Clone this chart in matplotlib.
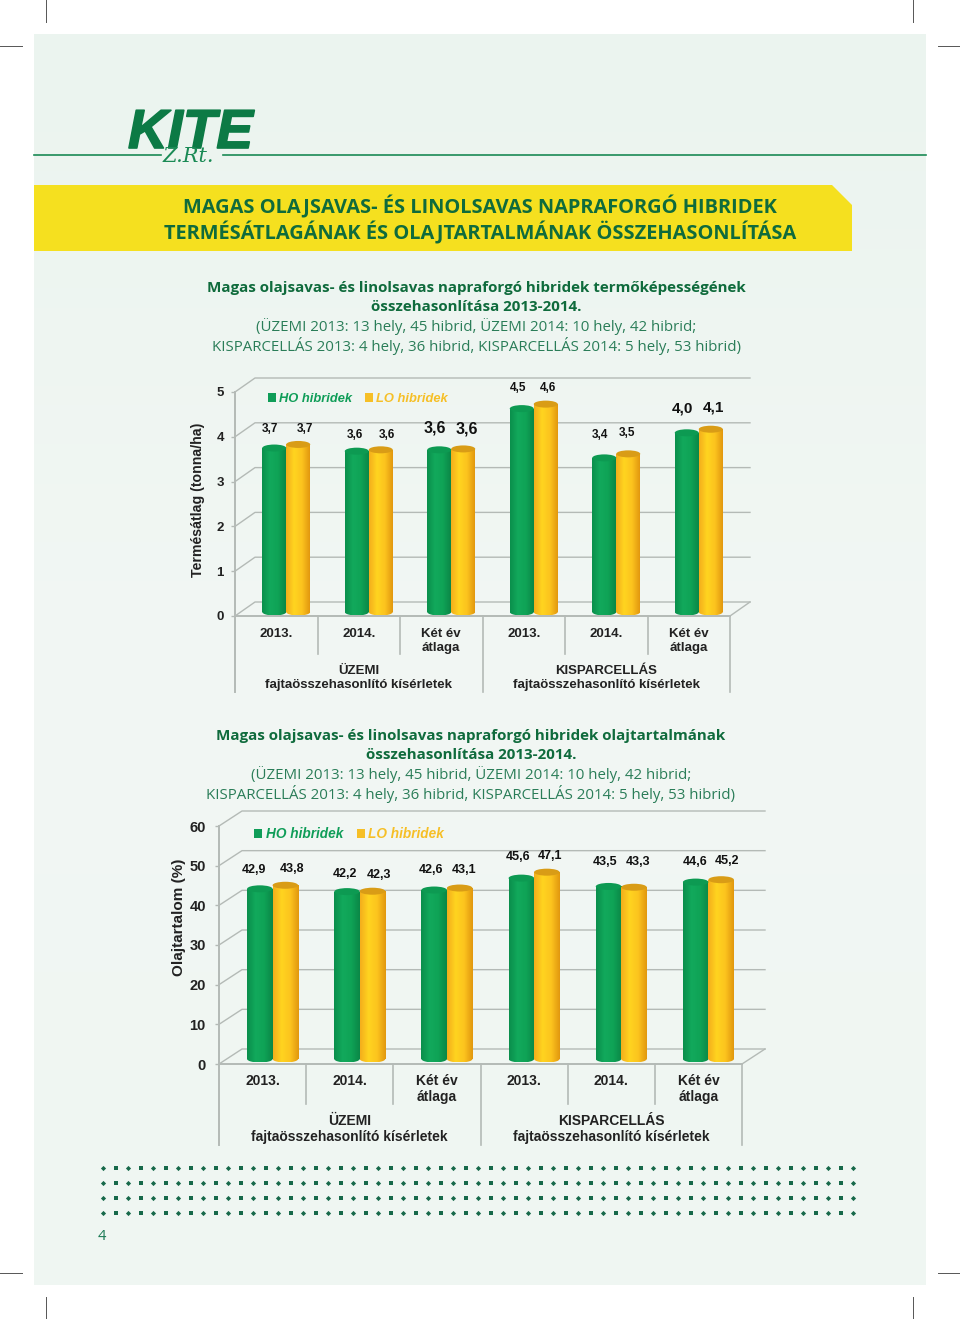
import numpy as np
import matplotlib
matplotlib.use("Agg")
import matplotlib.pyplot as plt
import matplotlib.patheffects as pe
from matplotlib.colors import LinearSegmentedColormap
from matplotlib.patches import Ellipse, Patch, Polygon, Rectangle

W, H = 960, 1319
GREEN = "#0f6b3c"
LINE = "#b4bab6"
SANS = "Liberation Sans"
HEAD = "Open Sans"

# data
categories = ["2013.", "2014.", "Két év\nátlaga", "2013.", "2014.", "Két év\nátlaga"]
groups = ["ÜZEMI\nfajtaösszehasonlító kísérletek", "KISPARCELLÁS\nfajtaösszehasonlító kísérletek"]
series_names = ["HO hibridek", "LO hibridek"]

yield_ho = [3.66, 3.59, 3.62, 4.54, 3.44, 4.00]
yield_lo = [3.74, 3.62, 3.64, 4.64, 3.53, 4.08]
yield_ticks = [0, 1, 2, 3, 4, 5]

oil_ho = [42.9, 42.2, 42.6, 45.6, 43.5, 44.6]
oil_lo = [43.8, 42.3, 43.1, 47.1, 43.3, 45.2]
oil_ticks = [0, 10, 20, 30, 40, 50, 60]

green_cmap = LinearSegmentedColormap.from_list("g", ["#0a8f4c", "#12a95c", "#0fa356", "#0b8747"])
orange_cmap = LinearSegmentedColormap.from_list("o", ["#f4ae1c", "#ffd420", "#fcc41e", "#e2980f"])

fig = plt.figure(figsize=(W / 100, H / 100), dpi=100, facecolor="white")

# page layer, in pixels
page = fig.add_axes([0, 0, 1, 1])
page.set_xlim(0, W)
page.set_ylim(H, 0)
page.axis("off")

bg = LinearSegmentedColormap.from_list("bg", ["#ebf4ef", "#f2f7f4", "#eff6f2"])
page.imshow(np.linspace(0, 1, 64).reshape(-1, 1), cmap=bg, extent=(34, 926, 1285, 34), aspect="auto")
page.set_xlim(0, W)
page.set_ylim(H, 0)

# crop marks
for x in (46, 913):
    page.plot([x, x], [0, 22], color="#555555", lw=0.7)
    page.plot([x, x], [1297, H], color="#555555", lw=0.7)
for y in (46, 1273):
    page.plot([0, 22], [y, y], color="#555555", lw=0.7)
    page.plot([938, W], [y, y], color="#555555", lw=0.7)

# logo
page.plot([34, 161], [155, 155], color="#1a8a55", lw=1.2)
page.plot([223, 926], [155, 155], color="#1a8a55", lw=1.2)
logo = page.text(128, 148, "KITE", family=SANS, weight="bold", style="italic", fontsize=39.5,
                 color="#0c7a45", ha="left", va="baseline")
logo.set_path_effects([pe.withStroke(linewidth=1.2, foreground="#0c7a45")])
page.text(163, 162, "Z.Rt.", family="DejaVu Serif", style="italic", fontsize=15,
          color="#1a8a55", ha="left", va="baseline")

# yellow band
page.add_patch(Polygon([(34, 185), (832, 185), (852, 205), (852, 251), (34, 251)],
                       closed=True, fc="#f5e01f", ec="none"))
page.text(480, 207, "MAGAS OLAJSAVAS- ÉS LINOLSAVAS NAPRAFORGÓ HIBRIDEK", family=HEAD, weight="bold",
          fontsize=14.4, color=GREEN, ha="center", va="center")
page.text(480, 233, "TERMÉSÁTLAGÁNAK ÉS OLAJTARTALMÁNAK ÖSSZEHASONLÍTÁSA", family=HEAD, weight="bold",
          fontsize=14.4, color=GREEN, ha="center", va="center")


def intro(cx, y0, bold1, bold2, thin1, thin2):
    page.text(cx, y0, bold1, family=HEAD, weight="bold", fontsize=10.9, color=GREEN, ha="center", va="center")
    page.text(cx, y0 + 19, bold2, family=HEAD, weight="bold", fontsize=10.9, color=GREEN, ha="center", va="center")
    page.text(cx, y0 + 38.5, thin1, family=HEAD, fontsize=10.8, color="#2a7d58", ha="center", va="center")
    page.text(cx, y0 + 58, thin2, family=HEAD, fontsize=10.8, color="#2a7d58", ha="center", va="center")


thin_a = "(ÜZEMI 2013: 13 hely, 45 hibrid, ÜZEMI 2014: 10 hely, 42 hibrid;"
thin_b = "KISPARCELLÁS 2013: 4 hely, 36 hibrid, KISPARCELLÁS 2014: 5 hely, 53 hibrid)"
intro(476, 288, "Magas olajsavas- és linolsavas napraforgó hibridek termőképességének",
      "összehasonlítása 2013-2014.", thin_a, thin_b)
intro(471, 736, "Magas olajsavas- és linolsavas napraforgó hibridek olajtartalmának",
      "összehasonlítása 2013-2014.", thin_a, thin_b)

# dotted rows
for y in (1168, 1183, 1198, 1213):
    xs = np.arange(103, 858, 12.5)
    page.scatter(xs[::2], np.full(xs[::2].shape, y), s=7, marker="D", color="#17694a", lw=0)
    page.scatter(xs[1::2], np.full(xs[1::2].shape, y), s=7, marker="s", color="#17694a", lw=0)
page.text(102, 1237, "4", family=HEAD, fontsize=10.5, color="#1a7a55", ha="center", va="center")


def draw_chart(left, right, y0, ytop, ymax, ticks, ho, lo, ylabel, ylabel_xy, ylabel_fs, depth, base_px,
               shift, bar_w, label_pts, label_sizes, tick_fs, group_fs, axis_fs, axis_pad, x_pad, group_y,
               divider_px, group_px, legend_xy, legend_fs):
    ax = fig.add_axes([left / W, 1 - y0 / H, (right - left) / W, (y0 - ytop) / H])
    ax.patch.set_alpha(0)
    ax.set_xlim(0, len(categories))
    ax.set_ylim(0, ymax)
    xpx = (right - left) / len(categories)
    ypx = (y0 - ytop) / ymax
    dx, dy = depth[0] / xpx, depth[1] / ypx

    # back wall, floor and grid
    for t in ticks:
        ax.plot([0, dx, len(categories) + dx], [t, t + dy, t + dy], color=LINE, lw=1.0,
                clip_on=False, zorder=1)
    ax.plot([len(categories), len(categories) + dx], [0, dy], color=LINE, lw=1.0, clip_on=False, zorder=1)

    # cylinders
    base = base_px / ypx
    eh = 7 / ypx
    w = bar_w / xpx
    x = np.arange(len(categories)) + 0.5 + shift / xpx
    grad = np.linspace(0, 1, 64).reshape(1, -1)
    for values, off, cmap, cap in ((ho, -w / 2, green_cmap, "#0d9a52"), (lo, w / 2, orange_cmap, "#d99c16")):
        bars = ax.bar(x + off, values, width=w, bottom=base + np.zeros(len(values)),
                      color="none", zorder=4)
        for b, v in zip(bars, values):
            bx = b.get_x()
            top = base + v
            im = ax.imshow(grad, cmap=cmap, extent=(bx, bx + w, base - eh / 2, top), aspect="auto", zorder=3)
            low = Ellipse((bx + w / 2, base), w, eh, fc="none", ec="none", zorder=3)
            ax.add_patch(low)
            body = Rectangle((bx, base), w, v, fc="none", ec="none")
            ax.add_patch(body)
            im.set_clip_path(body)
            im2 = ax.imshow(grad, cmap=cmap, extent=(bx, bx + w, base - eh / 2, base + eh / 2),
                            aspect="auto", zorder=3)
            im2.set_clip_path(low)
            ax.add_patch(Ellipse((bx + w / 2, top), w, eh, fc=cap, ec="none", zorder=5))
    ax.set_xlim(0, len(categories))
    ax.set_ylim(0, ymax)

    # value labels
    for i, (a, b) in enumerate(zip(ho, lo)):
        for j, v in enumerate((a, b)):
            px_x, px_y, = label_pts[i][j]
            ax.text((px_x - left) / xpx, (y0 - px_y) / ypx, f"{v:.1f}".replace(".", ","), family=SANS,
                    weight="bold", fontsize=label_sizes[i], color="#111111", ha="center", va="center",
                    zorder=6, clip_on=False)

    # axes
    for s in ("top", "right"):
        ax.spines[s].set_visible(False)
    ax.spines["left"].set_color(LINE)
    ax.spines["left"].set_linewidth(1.4)
    ax.spines["left"].set_bounds(-(group_px - y0) / ypx, ymax)
    ax.spines["bottom"].set_color(LINE)
    ax.spines["bottom"].set_linewidth(1.4)
    ax.set_yticks(ticks)
    ax.set_yticklabels([str(t) for t in ticks], family=SANS, weight="bold", fontsize=axis_fs, color="#222222")
    ax.tick_params(axis="y", length=3, width=1, color=LINE, pad=axis_pad)
    ax.set_xticks(np.arange(len(categories)) + 0.5)
    ax.set_xticklabels(categories, family=SANS, weight="bold", fontsize=tick_fs, color="#222222",
                       linespacing=1.2)
    ax.tick_params(axis="x", length=0, pad=x_pad)

    for k in range(1, len(categories) + 1):
        bottom = group_px if k % 3 == 0 else divider_px
        ax.plot([k, k], [0, -(bottom - y0) / ypx], color=LINE, lw=1.2, clip_on=False, zorder=1)
    for n, g in enumerate(groups):
        ax.text(1.5 + 3 * n, -(group_y - y0) / ypx, g, family=SANS, weight="bold", fontsize=group_fs,
                color="#222222", ha="center", va="center", linespacing=1.2, clip_on=False)

    fig.text(ylabel_xy[0] / W, 1 - ylabel_xy[1] / H, ylabel, family=SANS, weight="bold",
             fontsize=ylabel_fs, color="#222222", rotation=90, ha="center", va="center")

    handles = [Patch(fc="#0f9d58", ec="none"), Patch(fc="#f6bf26", ec="none")]
    ax.legend(handles, series_names, loc="center left", bbox_to_anchor=((legend_xy[0] - left) / (right - left),
                                                                        (y0 - legend_xy[1]) / (y0 - ytop)),
              ncol=2, frameon=False, handlelength=0.6, handleheight=0.6, handletextpad=0.25, columnspacing=1.0,
              borderpad=0, borderaxespad=0, labelcolor=["#0f9d58", "#f6bf26"],
              prop={"family": SANS, "weight": "bold", "style": "italic", "size": legend_fs})
    return ax


yield_label_pts = [[(270, 429), (305, 429)], [(355, 435), (387, 435)], [(435, 428), (467, 429)],
                   [(518, 388), (548, 388)], [(600, 435), (627, 433)], [(682, 409), (713, 408)]]
yield_label_sizes = [8.5, 8.5, 11.5, 8.5, 8.5, 11]
oil_label_pts = [[(254, 870), (292, 869)], [(345, 874), (379, 875)], [(431, 870), (464, 870)],
                 [(518, 857), (550, 856)], [(605, 862), (638, 862)], [(695, 862), (727, 861)]]
oil_label_sizes = [9] * 6

draw_chart(235, 730, 616, 392, 5, yield_ticks, yield_ho, yield_lo, "Termésátlag (tonna/ha)", (198, 500), 10.2,
           (20, 14), 4, 10, 24, yield_label_pts, yield_label_sizes, 9.5, 9.5, 9.5, 5, 9, 678, 654, 692,
           (268, 399), 9.3)
draw_chart(219, 742, 1064, 826, 60, oil_ticks, oil_ho, oil_lo, "Olajtartalom (%)", (179, 917), 11,
           (23, 15), 5, 10, 25.5, oil_label_pts, oil_label_sizes, 10, 10, 10.5, 6.5, 7, 1129, 1104, 1145,
           (254, 834), 9.8)

fig.savefig("out.png", dpi=100, facecolor="white")
